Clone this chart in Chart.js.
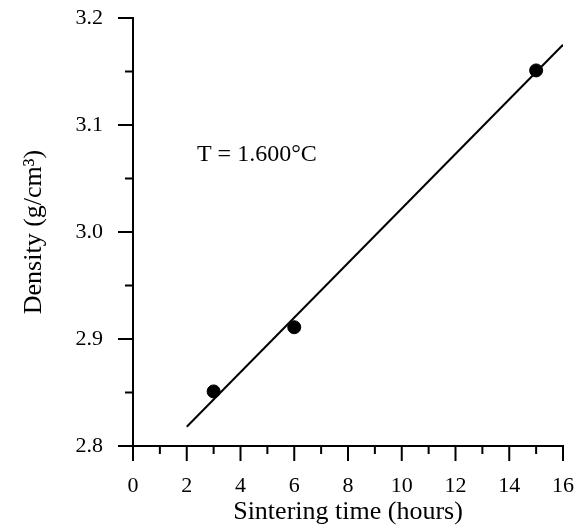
<!DOCTYPE html>
<html lang="en">
<head>
<meta charset="UTF-8">
<title>Density vs sintering time</title>
<script src="https://cdn.jsdelivr.net/npm/chart.js"></script>
<style>
  body { margin: 0; background: #fff; }
  #wrap { width: 576px; height: 525px; }
</style>
</head>
<body>
<div id="wrap"><canvas id="plot" width="576" height="525"></canvas></div>
<script>
const hours = [3, 6, 15];
const density = [2.851, 2.911, 3.151];

const fitHours = [2, 16];
const fitDensity = [2.818, 3.175];

const xTickLabels = ['0', '2', '4', '6', '8', '10', '12', '14', '16'];
const yTickLabels = ['2.8', '2.9', '3.0', '3.1', '3.2'];

const note = 'T = 1.600°C';
const serif = '"Liberation Serif", "DejaVu Serif", serif';

// major / minor tick marks drawn outside the plot, plus the temperature note
const tickMarks = {
  id: 'tickMarks',
  afterDraw(chart) {
    const ctx = chart.ctx;
    const { x, y } = chart.scales;
    ctx.save();
    ctx.strokeStyle = '#000';
    ctx.lineWidth = 2;
    ctx.beginPath();
    x.ticks.forEach((t) => {
      const px = x.getPixelForValue(t.value);
      const len = t.label ? 15 : 8;
      ctx.moveTo(px, x.top);
      ctx.lineTo(px, x.top + len);
    });
    y.ticks.forEach((t) => {
      const py = y.getPixelForValue(t.value);
      const len = t.label ? 15 : 8;
      ctx.moveTo(y.right, py);
      ctx.lineTo(y.right - len, py);
    });
    ctx.stroke();

    ctx.fillStyle = '#000';
    ctx.font = '24px ' + serif;
    ctx.textAlign = 'left';
    ctx.textBaseline = 'middle';
    ctx.fillText(note, x.getPixelForValue(2.38), y.getPixelForValue(3.072));
    ctx.restore();
  }
};

const ctx = document.getElementById('plot');

new Chart(ctx, {
  type: 'scatter',
  data: {
    datasets: [
      {
        label: 'fit',
        data: fitHours.map((h, i) => ({ x: h, y: fitDensity[i] })),
        showLine: true,
        borderColor: '#000',
        borderWidth: 2,
        pointRadius: 0,
      },
      {
        label: 'measured',
        data: hours.map((h, i) => ({ x: h, y: density[i] })),
        backgroundColor: '#000',
        borderColor: '#000',
        pointRadius: 6.5,
      },
    ],
  },
  options: {
    responsive: false,
    animation: false,
    layout: { padding: { left: 0, right: 13, top: 18, bottom: 0 } },
    plugins: {
      legend: { display: false },
      tooltip: { enabled: false },
    },
    scales: {
      x: {
        type: 'linear',
        min: 0,
        max: 16,
        afterFit: (s) => {
          s.height = 79;
          s.paddingLeft = 0;
          s.paddingRight = 0;
        },
        border: { display: true, color: '#000', width: 2 },
        grid: { display: false, drawTicks: false },
        ticks: {
          stepSize: 1,
          autoSkip: false,
          maxRotation: 0,
          padding: 27,
          color: '#000',
          font: { family: serif, size: 22 },
          callback: (v) => (v % 2 === 0 ? xTickLabels[v / 2] : ''),
        },
        title: {
          display: true,
          text: 'Sintering time (hours)',
          color: '#000',
          font: { family: serif, size: 26, lineHeight: 1 },
          padding: { top: 0, bottom: 0 },
        },
      },
      y: {
        type: 'linear',
        min: 2.8,
        max: 3.2,
        afterFit: (s) => {
          s.width = 133;
          s.paddingTop = 0;
          s.paddingBottom = 0;
        },
        border: { display: true, color: '#000', width: 2 },
        grid: { display: false, drawTicks: false },
        ticks: {
          stepSize: 0.05,
          autoSkip: false,
          padding: 30,
          color: '#000',
          font: { family: serif, size: 22 },
          callback: (v) => {
            const k = Math.round((v - 2.8) * 20);
            return k % 2 === 0 ? yTickLabels[k / 2] : '';
          },
        },
        title: {
          display: true,
          text: 'Density (g/cm³)',
          color: '#000',
          font: { family: serif, size: 26, lineHeight: 1 },
          padding: { top: 21, bottom: 0 },
        },
      },
    },
  },
  plugins: [tickMarks],
});
</script>
</body>
</html>
